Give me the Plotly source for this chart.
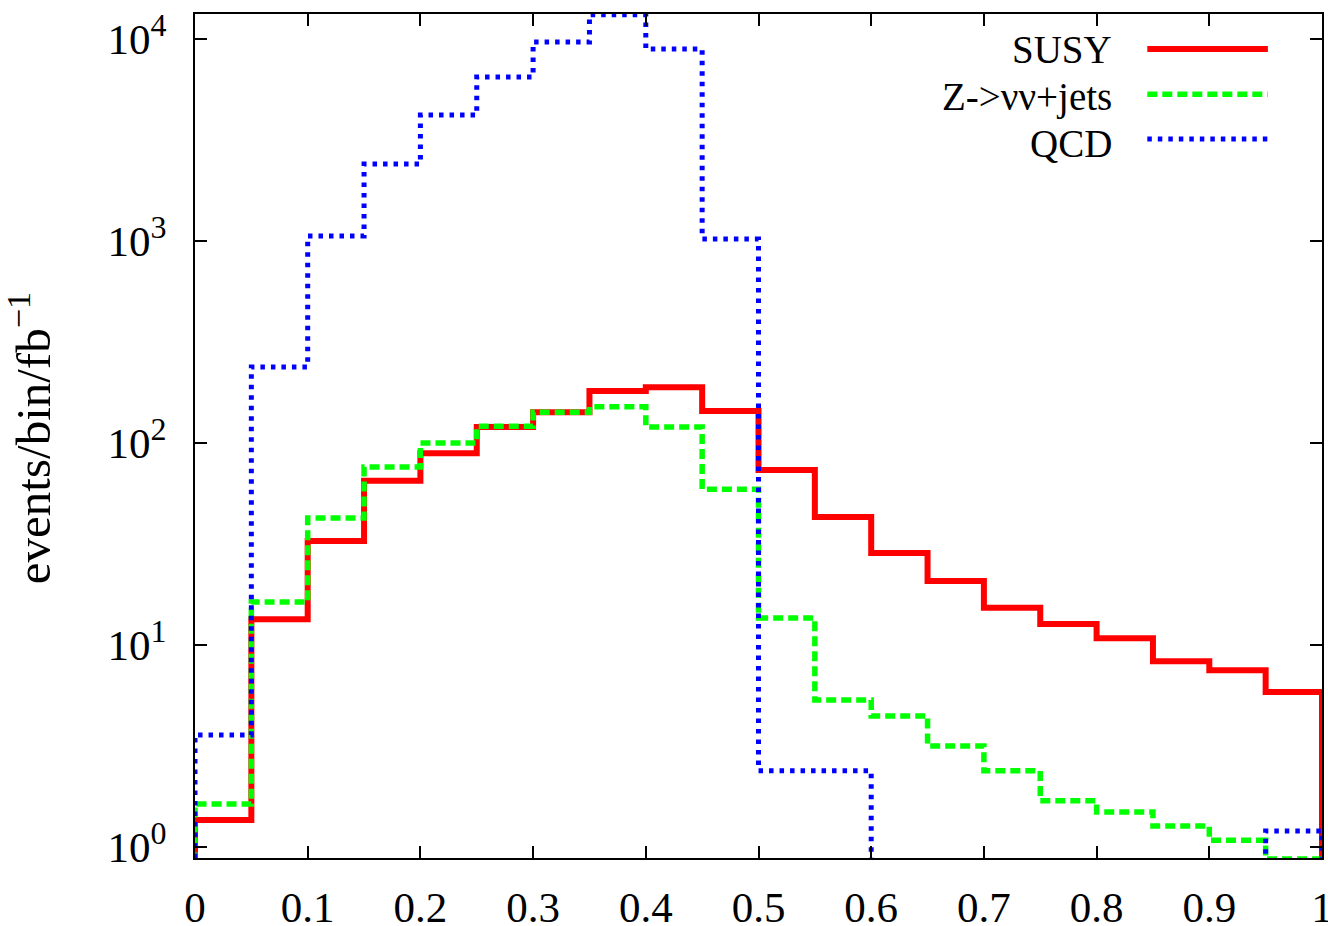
import plotly.graph_objects as go

# ---- data ----
bin_lo = [0.00, 0.05, 0.10, 0.15, 0.20, 0.25, 0.30, 0.35, 0.40, 0.45,
          0.50, 0.55, 0.60, 0.65, 0.70, 0.75, 0.80, 0.85, 0.90, 0.95]
bin_hi_last = 1.0
susy = [1.36, 13.4, 32.7, 65, 89, 120, 142, 181, 189, 144,
        73.5, 43, 28.5, 20.7, 15.3, 12.7, 10.8, 8.3, 7.5, 5.85]
zvv = [1.63, 16.3, 42.5, 76, 100, 121, 142, 151, 120, 59,
       13.6, 5.34, 4.45, 3.16, 2.38, 1.69, 1.49, 1.27, 1.08, 0.87]
qcd = [3.58, 238, 1059, 2405, 4205, 6486, 9660, 13200, 8917, 1023,
       2.38, 2.38, 0, 0, 0, 0, 0, 0, 0, 1.2]
series_names = ["SUSY", "Z->νν+jets", "QCD"]
series_colors = ["#ff0000", "#00ff00", "#0000ff"]

x_tickvals = [0, 0.1, 0.2, 0.3, 0.4, 0.5, 0.6, 0.7, 0.8, 0.9, 1.0]
x_ticktext = ["0", "0.1", "0.2", "0.3", "0.4", "0.5", "0.6", "0.7", "0.8", "0.9", "1"]
y_tickvals = [1, 10, 100, 1000, 10000]
y_exponents = ["0", "1", "2", "3", "4"]

FLOOR = 0.3  # stand-in for empty bins on the log axis (below visible range)
FONT = "Liberation Serif"


def steps(vals):
    xs = [bin_lo[0]] + list(bin_lo) + [bin_hi_last, bin_hi_last]
    v = [a if a > 0 else FLOOR for a in vals]
    ys = [FLOOR] + v + [v[-1], FLOOR]
    return xs, ys


styles = [
    dict(width=6, dash="solid"),
    dict(width=5.5, dash="10px,5px"),
    dict(width=5, dash="4.5px,6px"),
]

fig = go.Figure()
for name, vals, col, st in zip(series_names, [susy, zvv, qcd], series_colors, styles):
    xs, ys = steps(vals)
    fig.add_trace(go.Scatter(x=xs, y=ys, mode="lines", line_shape="hv",
                             name=name, showlegend=False,
                             line=dict(color=col, width=st["width"], dash=st["dash"])))

# gnuplot-style legend (text right-aligned, sample to the right)
leg_y = [0.958, 0.902, 0.846]
line_y = [0.9585, 0.905, 0.852]
for name, col, st, ty, ly in zip(series_names, series_colors, styles, leg_y, line_y):
    fig.add_annotation(x=0.815, y=ty, xref="x", yref="paper", text=name,
                       showarrow=False, xanchor="right", yanchor="middle",
                       font=dict(family=FONT, size=39, color="black"))
    fig.add_shape(type="line", xref="x", yref="paper", x0=0.845, x1=0.952,
                  y0=ly, y1=ly, line=dict(color=col, width=st["width"], dash=st["dash"]))

fig.add_annotation(x=-0.146, y=0.498, xref="paper", yref="paper",
                   text="events/bin/fb<sup>−1</sup>", textangle=-90, showarrow=False,
                   xanchor="center", yanchor="middle",
                   font=dict(family=FONT, size=49, color="black"))

axis_common = dict(showline=True, linecolor="black", linewidth=2, mirror="ticks",
                   ticks="inside", ticklen=12, tickwidth=2, tickcolor="black",
                   showgrid=False, zeroline=False, automargin=False,
                   ticklabeloverflow="allow",
                   tickfont=dict(family=FONT, size=43, color="black"))

y_ticktext = ['10<sup><span style="font-size:32px">%s</span></sup>' % e for e in y_exponents]

fig.update_xaxes(range=[0, 1], tickmode="array", tickvals=x_tickvals, ticktext=x_ticktext,
                 ticklabelstandoff=10, **axis_common)
fig.update_yaxes(type="log", range=[-0.055, 4.124], tickmode="array",
                 tickvals=y_tickvals, ticktext=y_ticktext, ticklabelstandoff=18, **axis_common)

fig.update_layout(width=1328, height=926, margin=dict(l=195, r=6, t=14, b=68),
                  plot_bgcolor="white", paper_bgcolor="white")

fig.write_html("out.html", config={"displayModeBar": False},
               post_script="document.body.style.margin='0';")
